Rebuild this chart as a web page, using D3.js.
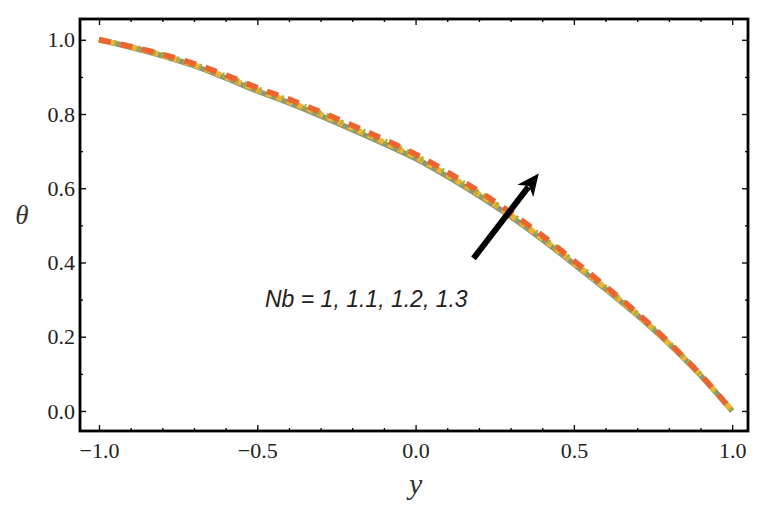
<!DOCTYPE html>
<html>
<head>
<meta charset="utf-8">
<script src="https://cdn.jsdelivr.net/npm/d3@7"></script>
<style>
  body { margin: 0; background: #fff; }
  svg { display: block; }
</style>
</head>
<body>
<div id="chart"></div>
<script>
// y values along the channel
const ys = [-1.0, -0.9, -0.8, -0.7, -0.6, -0.5, -0.4, -0.3, -0.2, -0.1, 0.0,
            0.1, 0.2, 0.3, 0.4, 0.5, 0.6, 0.7, 0.8, 0.9, 1.0]

// theta for Nb = 1, 1.1, 1.2, 1.3
const thetaNb1 = [1.000, 0.980, 0.957, 0.930, 0.897, 0.862, 0.830, 0.795, 0.758, 0.720, 0.680,
                  0.632, 0.580, 0.524, 0.462, 0.396, 0.328, 0.258, 0.181, 0.096, 0.000]
const thetaNb11 = [1.000, 0.981, 0.958, 0.932, 0.900, 0.865, 0.833, 0.799, 0.762, 0.724, 0.684,
                   0.636, 0.584, 0.528, 0.465, 0.399, 0.331, 0.260, 0.182, 0.097, 0.000]
const thetaNb12 = [1.000, 0.982, 0.960, 0.934, 0.902, 0.868, 0.837, 0.802, 0.766, 0.728, 0.688,
                   0.640, 0.588, 0.531, 0.469, 0.402, 0.333, 0.262, 0.184, 0.098, 0.000]
const thetaNb13 = [1.000, 0.982, 0.961, 0.936, 0.905, 0.871, 0.840, 0.806, 0.770, 0.732, 0.692,
                   0.644, 0.592, 0.535, 0.473, 0.405, 0.336, 0.264, 0.185, 0.098, 0.000]

const xMajor = [-1.0, -0.5, 0.0, 0.5, 1.0]
const xMinor = [-0.9, -0.8, -0.7, -0.6, -0.4, -0.3, -0.2, -0.1, 0.1, 0.2, 0.3, 0.4, 0.6, 0.7, 0.8, 0.9]
const yMajor = [0.0, 0.2, 0.4, 0.6, 0.8, 1.0]
const yMinor = [0.1, 0.3, 0.5, 0.7, 0.9]

const annotation = "Nb = 1, 1.1, 1.2, 1.3"
const arrowFrom = [0.183, 0.411]
const arrowTo = [0.389, 0.64]

const width = 760
const height = 507
const margin = {left: 80, right: 12, top: 19, bottom: 76}

const svg = d3.select("#chart")
    .append("svg")
    .attr("width", width)
    .attr("height", height)

const x = d3.scaleLinear()
    .domain([-1.06, 1.05])
    .range([margin.left, width - margin.right])

const y = d3.scaleLinear()
    .domain([-0.054, 1.056])
    .range([height - margin.bottom, margin.top])

const fmt = d3.format(".1f")

// series, bottom one first
const series = [
    {values: thetaNb1, color: "#8f9870", dash: null},
    {values: thetaNb11, color: "#f2b236", dash: "6,5"},
    {values: thetaNb12, color: "#98b53e", dash: "2,6"},
    {values: thetaNb13, color: "#ec6530", dash: "12,10"}
]

const line = d3.line()
    .x(d => x(d[0]))
    .y(d => y(d[1]))
    .curve(d3.curveMonotoneX)

svg.append("g")
    .selectAll("path")
    .data(series)
    .enter()
    .append("path")
    .attr("d", s => line(ys.map((v, i) => [v, s.values[i]])))
    .attr("fill", "none")
    .attr("stroke", s => s.color)
    .attr("stroke-width", 5.5)
    .attr("stroke-dasharray", s => s.dash)

// axes: ticks point inward, mirrored on top and right
const x0 = margin.left, x1 = width - margin.right
const y0 = height - margin.bottom, y1 = margin.top

const addAxis = (axisFn, scale, values, size, labels, translate, pad = 12) => {
    const g = svg.append("g")
        .attr("transform", translate)
        .call(axisFn(scale).tickValues(values).tickSize(size).tickPadding(pad)
            .tickFormat(labels ? fmt : ""))
    g.select(".domain").remove()
    g.selectAll(".tick line").attr("stroke", "#111").attr("stroke-width", 1.4)
    if (labels) g.selectAll(".tick text")
        .attr("font-family", "Liberation Serif, serif")
        .attr("font-size", 22)
        .attr("fill", "#222")
    else g.selectAll(".tick text").remove()
    return g
}

addAxis(d3.axisBottom, x, xMajor, -6, true, `translate(0,${y0})`, 11)
addAxis(d3.axisBottom, x, xMinor, -3, false, `translate(0,${y0})`)
addAxis(d3.axisTop, x, xMajor, -6, false, `translate(0,${y1})`)
addAxis(d3.axisTop, x, xMinor, -3, false, `translate(0,${y1})`)
addAxis(d3.axisLeft, y, yMajor, -6, true, `translate(${x0},0)`, 5)
addAxis(d3.axisLeft, y, yMinor, -3, false, `translate(${x0},0)`)
addAxis(d3.axisRight, y, yMajor, -6, false, `translate(${x1},0)`)
addAxis(d3.axisRight, y, yMinor, -3, false, `translate(${x1},0)`)

// frame
svg.append("rect")
    .attr("x", x0)
    .attr("y", y1)
    .attr("width", x1 - x0)
    .attr("height", y0 - y1)
    .attr("fill", "none")
    .attr("stroke", "#000")
    .attr("stroke-width", 2.8)

// axis labels
svg.append("text")
    .attr("x", x(0))
    .attr("y", 494)
    .attr("text-anchor", "middle")
    .style("font-family", "Liberation Serif, serif")
    .style("font-style", "italic")
    .style("font-size", "30px")
    .style("fill", "#333")
    .text("y")

svg.append("text")
    .attr("x", 22)
    .attr("y", 224)
    .attr("text-anchor", "middle")
    .style("font-family", "Liberation Serif, serif")
    .style("font-style", "italic")
    .style("font-size", "27px")
    .style("fill", "#333")
    .text("θ")

// annotation arrow
const ax0 = x(arrowFrom[0]), ay0 = y(arrowFrom[1])
const ax1 = x(arrowTo[0]), ay1 = y(arrowTo[1])
const ang = Math.atan2(ay1 - ay0, ax1 - ax0)
const headLen = 22, headW = 10
const bx = ax1 - headLen * Math.cos(ang), by = ay1 - headLen * Math.sin(ang)

svg.append("line")
    .attr("x1", ax0).attr("y1", ay0)
    .attr("x2", bx + 5 * Math.cos(ang)).attr("y2", by + 5 * Math.sin(ang))
    .attr("stroke", "#000")
    .attr("stroke-width", 6)

svg.append("path")
    .attr("d", `M${ax1},${ay1}
        L${bx + headW * Math.sin(ang)},${by - headW * Math.cos(ang)}
        L${bx + 6 * Math.cos(ang)},${by + 6 * Math.sin(ang)}
        L${bx - headW * Math.sin(ang)},${by + headW * Math.cos(ang)}Z`)
    .attr("fill", "#000")

svg.append("text")
    .attr("x", 265)
    .attr("y", 307)
    .style("font-family", "Liberation Sans, Arial, sans-serif")
    .style("font-style", "italic")
    .style("font-size", "23px")
    .style("fill", "#222")
    .text(annotation)
</script>
</body>
</html>
